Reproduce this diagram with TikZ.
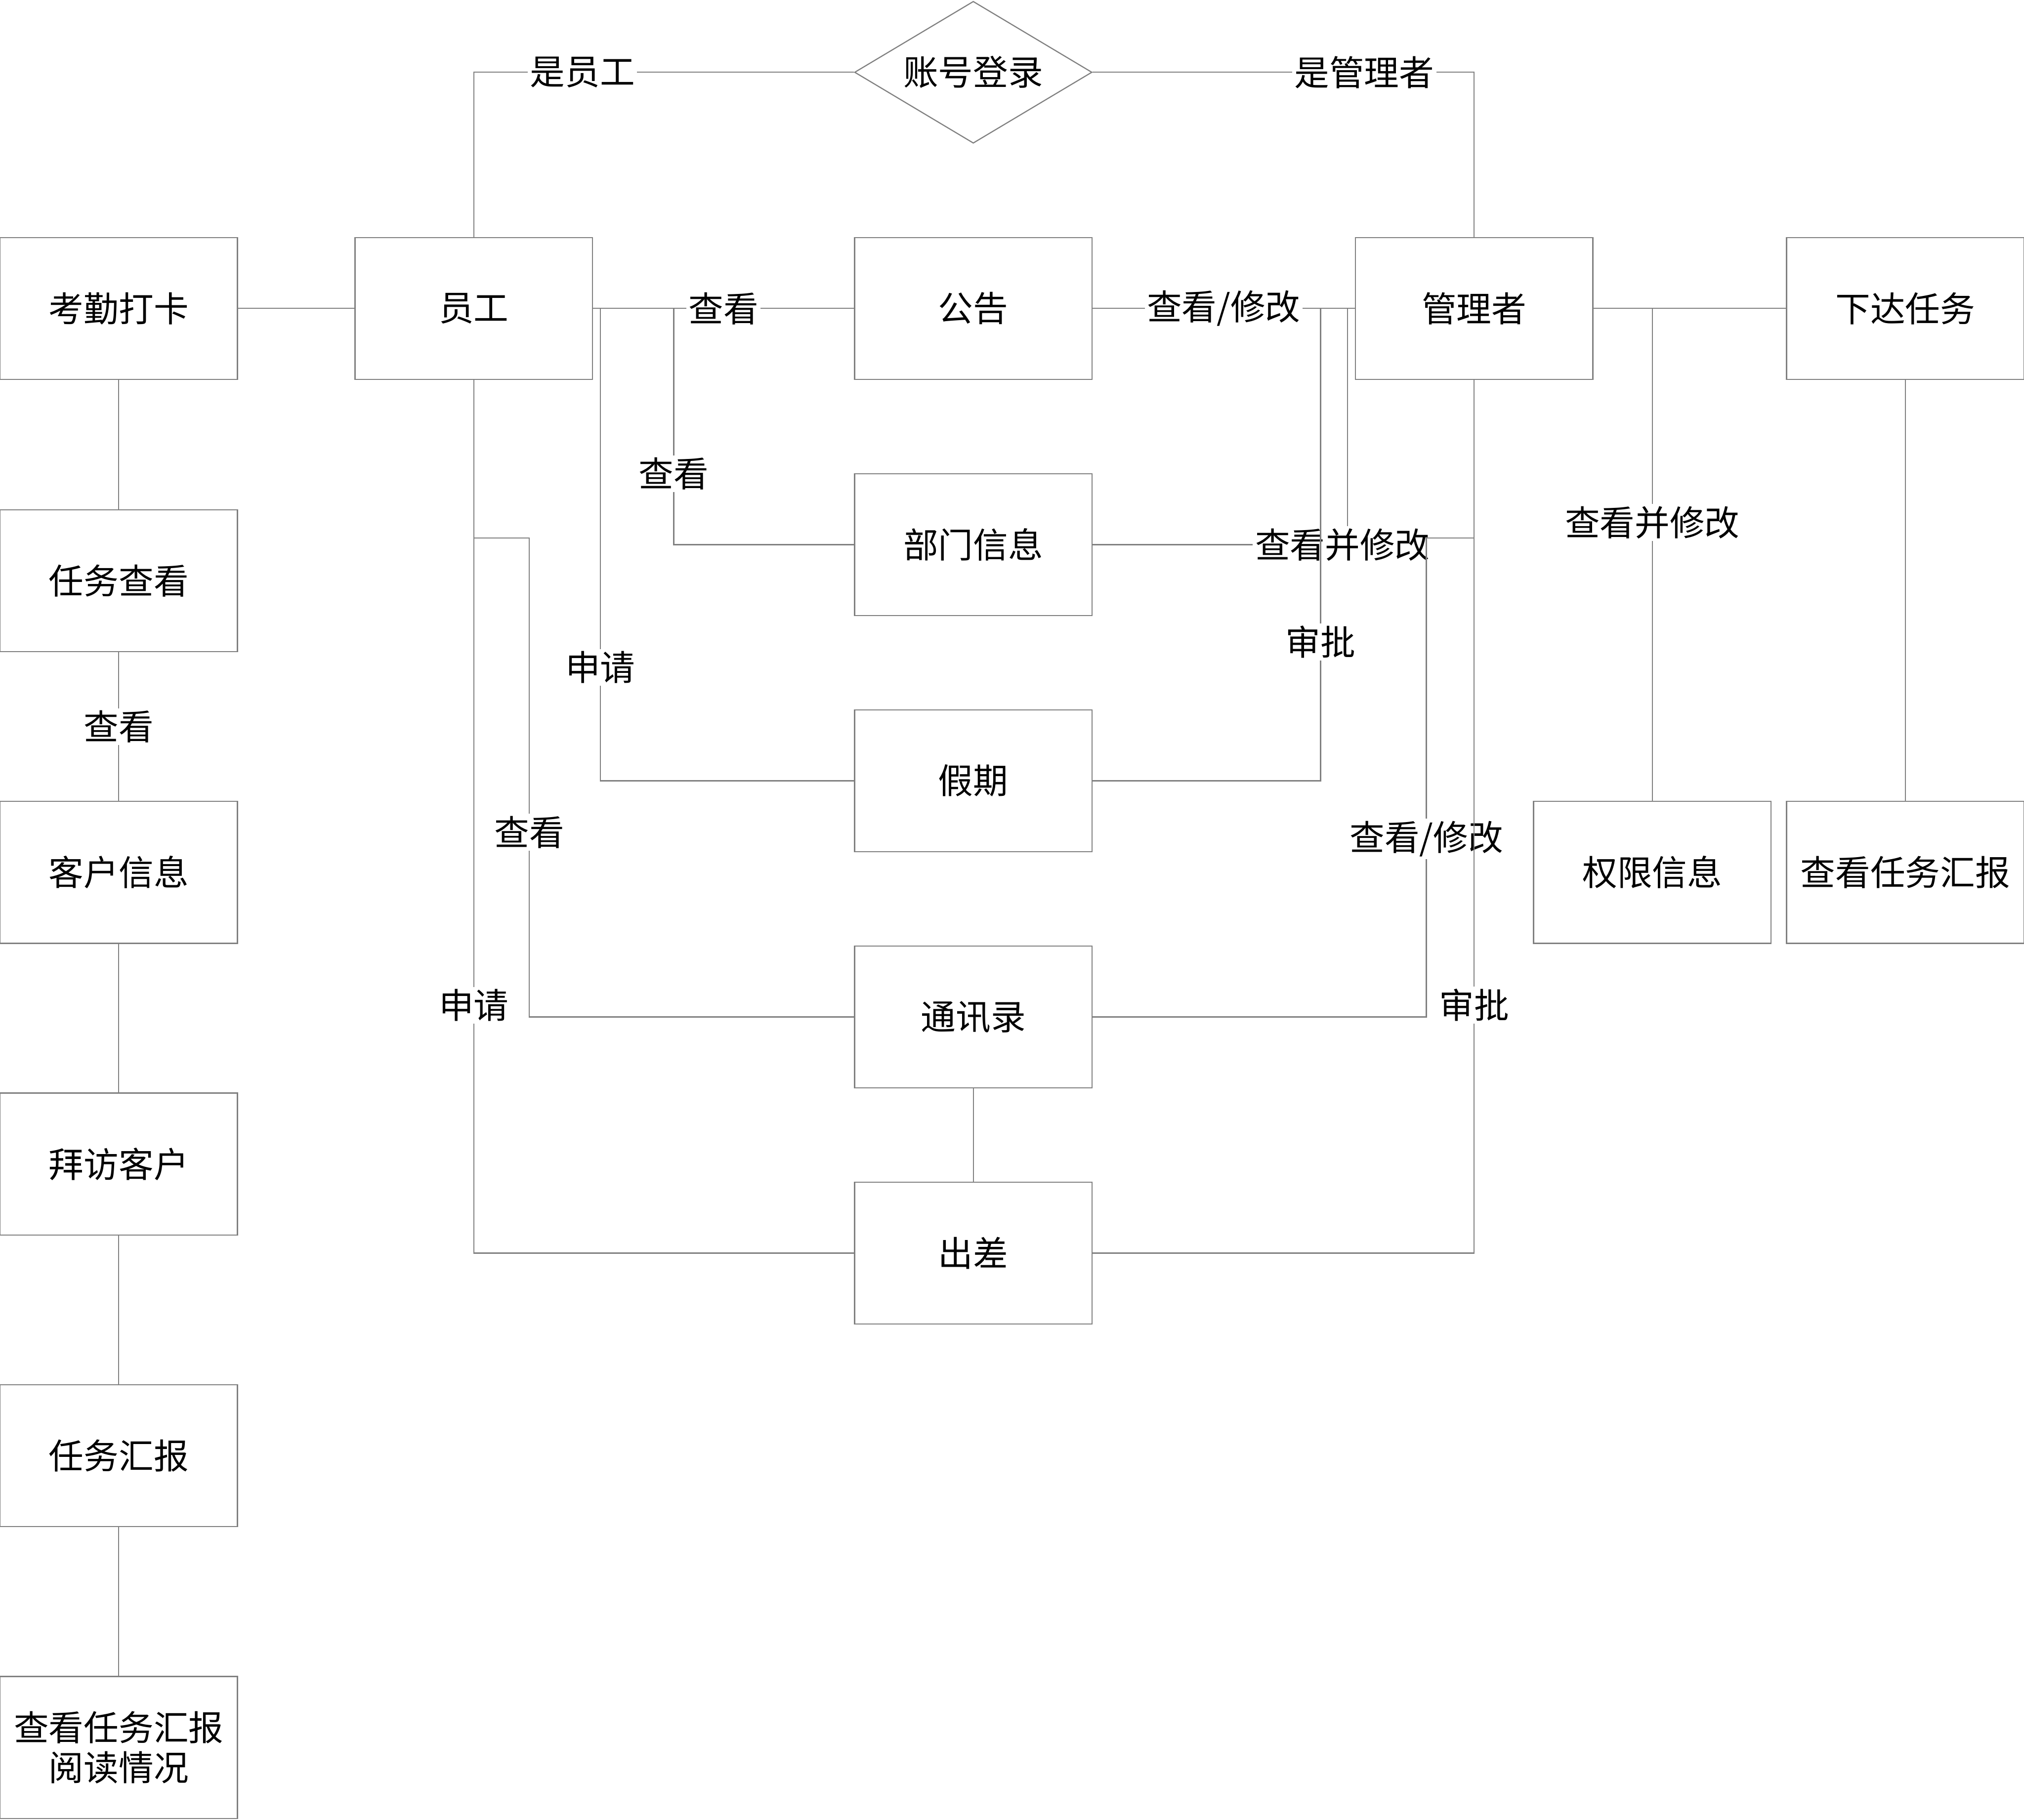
\documentclass[tikz,border=0pt]{standalone}
\usepackage{fontspec}
\setmainfont{Noto Sans CJK SC}
\usetikzlibrary{shapes.geometric}

\begin{document}
\begin{tikzpicture}[x=0.02cm, y=-0.02cm, font=\fontsize{15.4pt}{17.6pt}\selectfont,
  box/.style={draw=black!50, line width=0.5pt, minimum width=3.68cm, minimum height=2.2cm, align=center, inner sep=1pt},
  choice/.style={draw=black!50, line width=0.5pt, diamond, aspect=1.67, minimum width=3.68cm, minimum height=2.2cm, inner sep=1pt},
  link/.style={draw=black!50, line width=0.5pt},
  lbl/.style={fill=white, inner sep=1pt}]
\useasboundingbox (0,0) rectangle (1568,1410);
% left column
\node[box] (kqdk) at (92,239) {考勤打卡};
\node[box] (rwck) at (92,450) {任务查看};
\node[box] (khxx) at (92,676) {客户信息};
\node[box] (bfkh) at (92,902) {拜访客户};
\node[box] (rwhb) at (92,1128) {任务汇报};
\node[box] (ydqk) at (92,1354) {查看任务汇报\\阅读情况};
% middle
\node[choice] (login) at (754,56) {账号登录};
\node[box] (yg) at (367,239) {员工};
\node[box] (gg) at (754,239) {公告};
\node[box] (bmxx) at (754,422) {部门信息};
\node[box] (jq) at (754,605) {假期};
\node[box] (txl) at (754,788) {通讯录};
\node[box] (cc) at (754,971) {出差};
% right
\node[box] (gly) at (1142,239) {管理者};
\node[box] (xdrw) at (1476,239) {下达任务};
\node[box] (qxxx) at (1280,676) {权限信息};
\node[box] (ckhb) at (1476,676) {查看任务汇报};
% junctions
\coordinate (ygA) at (465,239); \coordinate (ygB) at (522,239); \coordinate (ygC) at (367,417);
\coordinate (glA) at (1023,239); \coordinate (glB) at (1044,239); \coordinate (glC) at (1142,417);
\coordinate (glD) at (1280,239);
% connectors
\draw[link] (login.west) -| node[lbl, pos=0.357] {是员工} (yg.north);
\draw[link] (login.east) -| node[lbl, pos=0.356] {是管理者} (gly.north);
\draw[link] (kqdk.east) -- (yg.west);
\draw[link] (kqdk.south) -- (rwck.north);
\draw[link] (rwck.south) -- node[lbl] {查看} (khxx.north);
\draw[link] (khxx.south) -- (bfkh.north);
\draw[link] (bfkh.south) -- (rwhb.north);
\draw[link] (rwhb.south) -- (ydqk.north);
\draw[link] (yg.east) -- node[lbl] {查看} (gg.west);
\draw[link] (bmxx.west) -| node[lbl, pos=0.65] {查看} (ygB);
\draw[link] (jq.west) -| node[lbl, pos=0.62] {申请} (ygA);
\draw[link] (cc.west) -| node[lbl, pos=0.642] {申请} (yg.south);
\draw[link] (ygC) -- ++(43,0) |- node[lbl, pos=0.307] {查看} (txl.west);
\draw[link] (txl.south) -- (cc.north);
\draw[link] (gg.east) -- node[lbl] {查看/修改} (gly.west);
\draw[link] (bmxx.east) -| node[lbl, pos=0.5, xshift=-0.08cm] {查看并修改} (glB);
\draw[link] (jq.east) -| node[lbl, pos=0.647] {审批} (glA);
\draw[link] (glC) -- ++(-37,0) |- node[lbl, pos=0.314] {查看/修改} (txl.east);
\draw[link] (cc.east) -| node[lbl, pos=0.642] {审批} (gly.south);
\draw[link] (gly.east) -- (xdrw.west);
\draw[link] (qxxx.north) -- node[lbl, pos=0.565] {查看并修改} (glD);
\draw[link] (xdrw.south) -- (ckhb.north);
\end{tikzpicture}
\end{document}
